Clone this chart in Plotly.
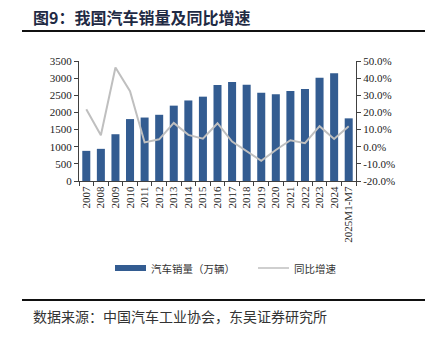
import plotly.graph_objects as go

# China auto sales (10k units) and YoY growth (%)
years = ["2007", "2008", "2009", "2010", "2011", "2012", "2013", "2014", "2015",
         "2016", "2017", "2018", "2019", "2020", "2021", "2022", "2023", "2024",
         "2025M1-M7"]
sales = [879, 938, 1364, 1806, 1851, 1931, 2198, 2349, 2460,
         2803, 2888, 2808, 2577, 2531, 2627, 2686, 3009, 3144, 1827]
yoy = [21.8, 6.7, 46.2, 32.4, 2.5, 4.3, 13.9, 6.9, 4.7,
       13.7, 3.0, -2.8, -8.2, -1.9, 3.8, 2.1, 12.0, 4.5, 12.0]

left_ticks = list(range(0, 3501, 500))
right_ticks = list(range(-20, 51, 10))

BAR = "#335C91"
LINE = "#BFBFBF"
SERIF = "Liberation Serif, Times New Roman, serif"
CJK = "Noto Sans CJK SC, sans-serif"

W, H = 437, 340
L, R, T, B = 79, 356, 61, 181


def px(x):
    return (x - L) / (R - L)


def py(y):
    return (B - y) / (B - T)


fig = go.Figure()
fig.add_trace(go.Bar(x=years, y=sales, name="汽车销量（万辆）",
                     marker=dict(color=BAR, line=dict(width=0)),
                     width=0.55, yaxis="y"))
fig.add_trace(go.Scatter(x=years, y=yoy, name="同比增速", mode="lines",
                         line=dict(color=LINE, width=2), yaxis="y2"))

axis_common = dict(showgrid=False, zeroline=False, showline=True,
                   linecolor="#404040", linewidth=1, ticks="outside",
                   ticklen=4, tickcolor="#404040",
                   tickfont=dict(family=SERIF, size=11, color="#222"))

fig.update_layout(
    width=W, height=H,
    margin=dict(l=L, r=W - R, t=T, b=H - B),
    paper_bgcolor="white", plot_bgcolor="white",
    showlegend=False,
    bargap=0.45,
    xaxis=dict(type="category", tickangle=-90, tickson="boundaries",
               showgrid=False, showline=True, linecolor="#404040",
               ticks="outside", ticklen=4, tickcolor="#404040",
               tickfont=dict(family=SERIF, size=11, color="#222")),
    yaxis=dict(range=[0, 3500], tickvals=left_ticks, **axis_common),
    yaxis2=dict(range=[-20, 50], tickvals=right_ticks,
                ticktext=[f"{v:.1f}%" for v in right_ticks],
                overlaying="y", side="right", **axis_common),
)

shapes = [
    # rule under the title
    dict(type="line", xref="paper", yref="paper", x0=px(22), x1=px(425),
         y0=py(31), y1=py(31), line=dict(color="#111", width=2)),
    # rule above the source note
    dict(type="line", xref="paper", yref="paper", x0=px(22), x1=px(425),
         y0=py(300), y1=py(300), line=dict(color="#111", width=2)),
    # legend swatches
    dict(type="rect", xref="paper", yref="paper", x0=px(115), x1=px(146),
         y0=py(271), y1=py(265), fillcolor=BAR, line=dict(width=0)),
    dict(type="line", xref="paper", yref="paper", x0=px(258), x1=px(289),
         y0=py(268), y1=py(268), line=dict(color=LINE, width=1.5)),
]

annotations = [
    dict(text="<b>图9：我国汽车销量及同比增速</b>", xref="paper", yref="paper",
         x=px(31), y=py(17), xanchor="left", yanchor="middle", showarrow=False,
         font=dict(family=CJK, size=16, color="#1F2A44")),
    dict(text="汽车销量（万辆）", xref="paper", yref="paper",
         x=px(149), y=py(268), xanchor="left", yanchor="middle", showarrow=False,
         font=dict(family=CJK, size=10.5, color="#333")),
    dict(text="同比增速", xref="paper", yref="paper",
         x=px(292), y=py(268), xanchor="left", yanchor="middle", showarrow=False,
         font=dict(family=CJK, size=10.5, color="#333")),
    dict(text="数据来源：中国汽车工业协会，东吴证券研究所", xref="paper", yref="paper",
         x=px(31), y=py(316), xanchor="left", yanchor="middle", showarrow=False,
         font=dict(family=CJK, size=14, color="#333")),
]

fig.update_layout(shapes=shapes, annotations=annotations)
fig.write_html("out.html")
